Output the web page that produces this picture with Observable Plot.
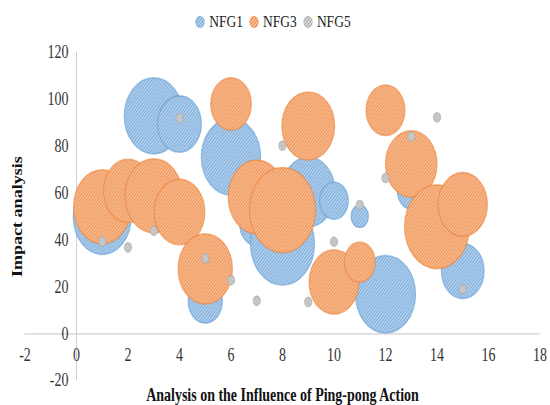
<!DOCTYPE html>
<html><head><meta charset="utf-8">
<script src="https://cdn.jsdelivr.net/npm/d3@7"></script>
<script src="https://cdn.jsdelivr.net/npm/@observablehq/plot@0.6"></script>
<style>
html,body{margin:0;background:#fff;height:405px;overflow:hidden;}
#outer{width:550px;height:405px;position:relative;}
#wrap{width:550px;height:314px;transform:scale(1,1.29);transform-origin:0 0;font-family:"Liberation Serif","Times New Roman",serif;}
#legend{height:30px;display:flex;justify-content:center;align-items:center;padding-top:3px;padding-right:4px;box-sizing:border-box;font-size:13.5px;color:#222;}
.item{display:flex;align-items:center;margin:0 3px;}
.item svg{margin-right:4px;}
</style></head><body>
<svg width="0" height="0" style="position:absolute"><defs id="defs"></defs></svg>
<div id="outer"><div id="wrap"><div id="legend"></div><div id="chart"></div></div></div>
<script>
const seriesNames = ["NFG1", "NFG3", "NFG5"];
const xs = [1, 2, 3, 4, 5, 6, 7, 8, 9, 10, 11, 12, 13, 14, 15];
const nfg1Y = [49.8, 60, 93, 89.5, 14, 75.5, 47, 38.4, 60.5, 56.8, 50.2, 16.9, 61, 45, 26.8];
const nfg1Size = [77, 21, 80, 44, 27, 81, 27, 94, 67, 19, 7, 83, 18, 21, 42];
const nfg3Y = [54.2, 61, 58.9, 52, 27.7, 98.1, 58.4, 52.8, 88.7, 22.1, 30.6, 95.4, 72.5, 45.7, 55.2];
const nfg3Size = [76, 55, 76, 59, 68, 38, 75, 100, 64, 57, 22, 35, 61, 97, 56];
const nfg5Y = [39.4, 36.9, 44, 92, 32.2, 22.9, 14.1, 80.3, 13.6, 39.3, 55, 66.5, 84.1, 92.4, 19];
const nfg5Size = [1.2, 1.2, 1.2, 1.2, 1.2, 1.2, 1.2, 1.2, 1.2, 1.2, 1.2, 1.2, 1.2, 1.2, 1.2];
const xTicks = [-2, 0, 2, 4, 6, 8, 10, 12, 14, 16, 18];
const yTicks = [-20, 0, 20, 40, 60, 80, 100, 120];
const xTitle = "Analysis on the Influence of Ping-pong Action";
const yTitle = "Impact analysis";

const lightColors = ["#dbe8f6", "#fbd8be", "#e6e6e6"];
const darkColors = ["#5b9bd5", "#ed7d31", "#a5a5a5"];

// hatch patterns
const defs = document.getElementById("defs");
seriesNames.forEach((n, i) => {
  defs.insertAdjacentHTML("beforeend",
    `<pattern id="hatch${i}" patternUnits="userSpaceOnUse" width="3" height="3">
       <rect width="3" height="3" fill="${lightColors[i]}"/>
       <path d="M-1,1 L1,-1 M0,3 L3,0 M2,4 L4,2" stroke="${darkColors[i]}" stroke-width="1"/>
     </pattern>`);
});

// legend
const legend = document.getElementById("legend");
seriesNames.forEach((n, i) => {
  legend.insertAdjacentHTML("beforeend",
    `<span class="item"><svg width="10" height="10"><circle cx="5" cy="5" r="4.3" fill="url(#hatch${i})" stroke="${darkColors[i]}" stroke-opacity="0.6" stroke-width="0.8"/></svg>${n}</span>`);
});

const rows = (ys, ss) => xs.map((x, i) => ({x, y: ys[i], s: ss[i]}));
const series = [rows(nfg1Y, nfg1Size), rows(nfg3Y, nfg3Size), rows(nfg5Y, nfg5Size)];

const chart = Plot.plot({
  width: 550,
  height: 284,
  marginLeft: 24.5,
  marginRight: 10.5,
  marginTop: 10.3,
  marginBottom: 19.4,
  x: {domain: [-2, 18], axis: null},
  y: {domain: [-20, 120], axis: null},
  r: {type: "sqrt", domain: [0, 100], range: [0, 33]},
  style: {fontFamily: '"Liberation Serif","Times New Roman",serif', fontSize: "14px", color: "#333", background: "transparent", overflow: "visible"},
  marks: [
    Plot.ruleX([0], {stroke: "#d0d0d0", strokeWidth: 1}),
    Plot.ruleY([0], {stroke: "#d0d0d0", strokeWidth: 1}),
    ...series.map((d, i) => Plot.dot(d, {
      x: "x", y: "y", r: "s", sort: null,
      fill: `url(#hatch${i})`,
      stroke: darkColors[i], strokeOpacity: 0.55, strokeWidth: 1.2
    })),
    Plot.text(yTicks, {x: 0, y: d => d, text: d => String(d), textAnchor: "end", dx: -8, fill: "#333"}),
    Plot.text(xTicks, {x: d => d, y: 0, text: d => String(d), dy: 16.3, fill: "#333"}),
    Plot.text([xTitle], {text: d => d, frameAnchor: "bottom", lineAnchor: "middle", textAnchor: "middle", dy: 11.4, fontWeight: "bold", fill: "#111"}),
    Plot.text([yTitle], {text: d => d, frameAnchor: "left", textAnchor: "middle", rotate: -90, dx: -7.5, fontWeight: "bold", fill: "#111"})
  ]
});
document.getElementById("chart").appendChild(chart);
</script>
</body></html>
